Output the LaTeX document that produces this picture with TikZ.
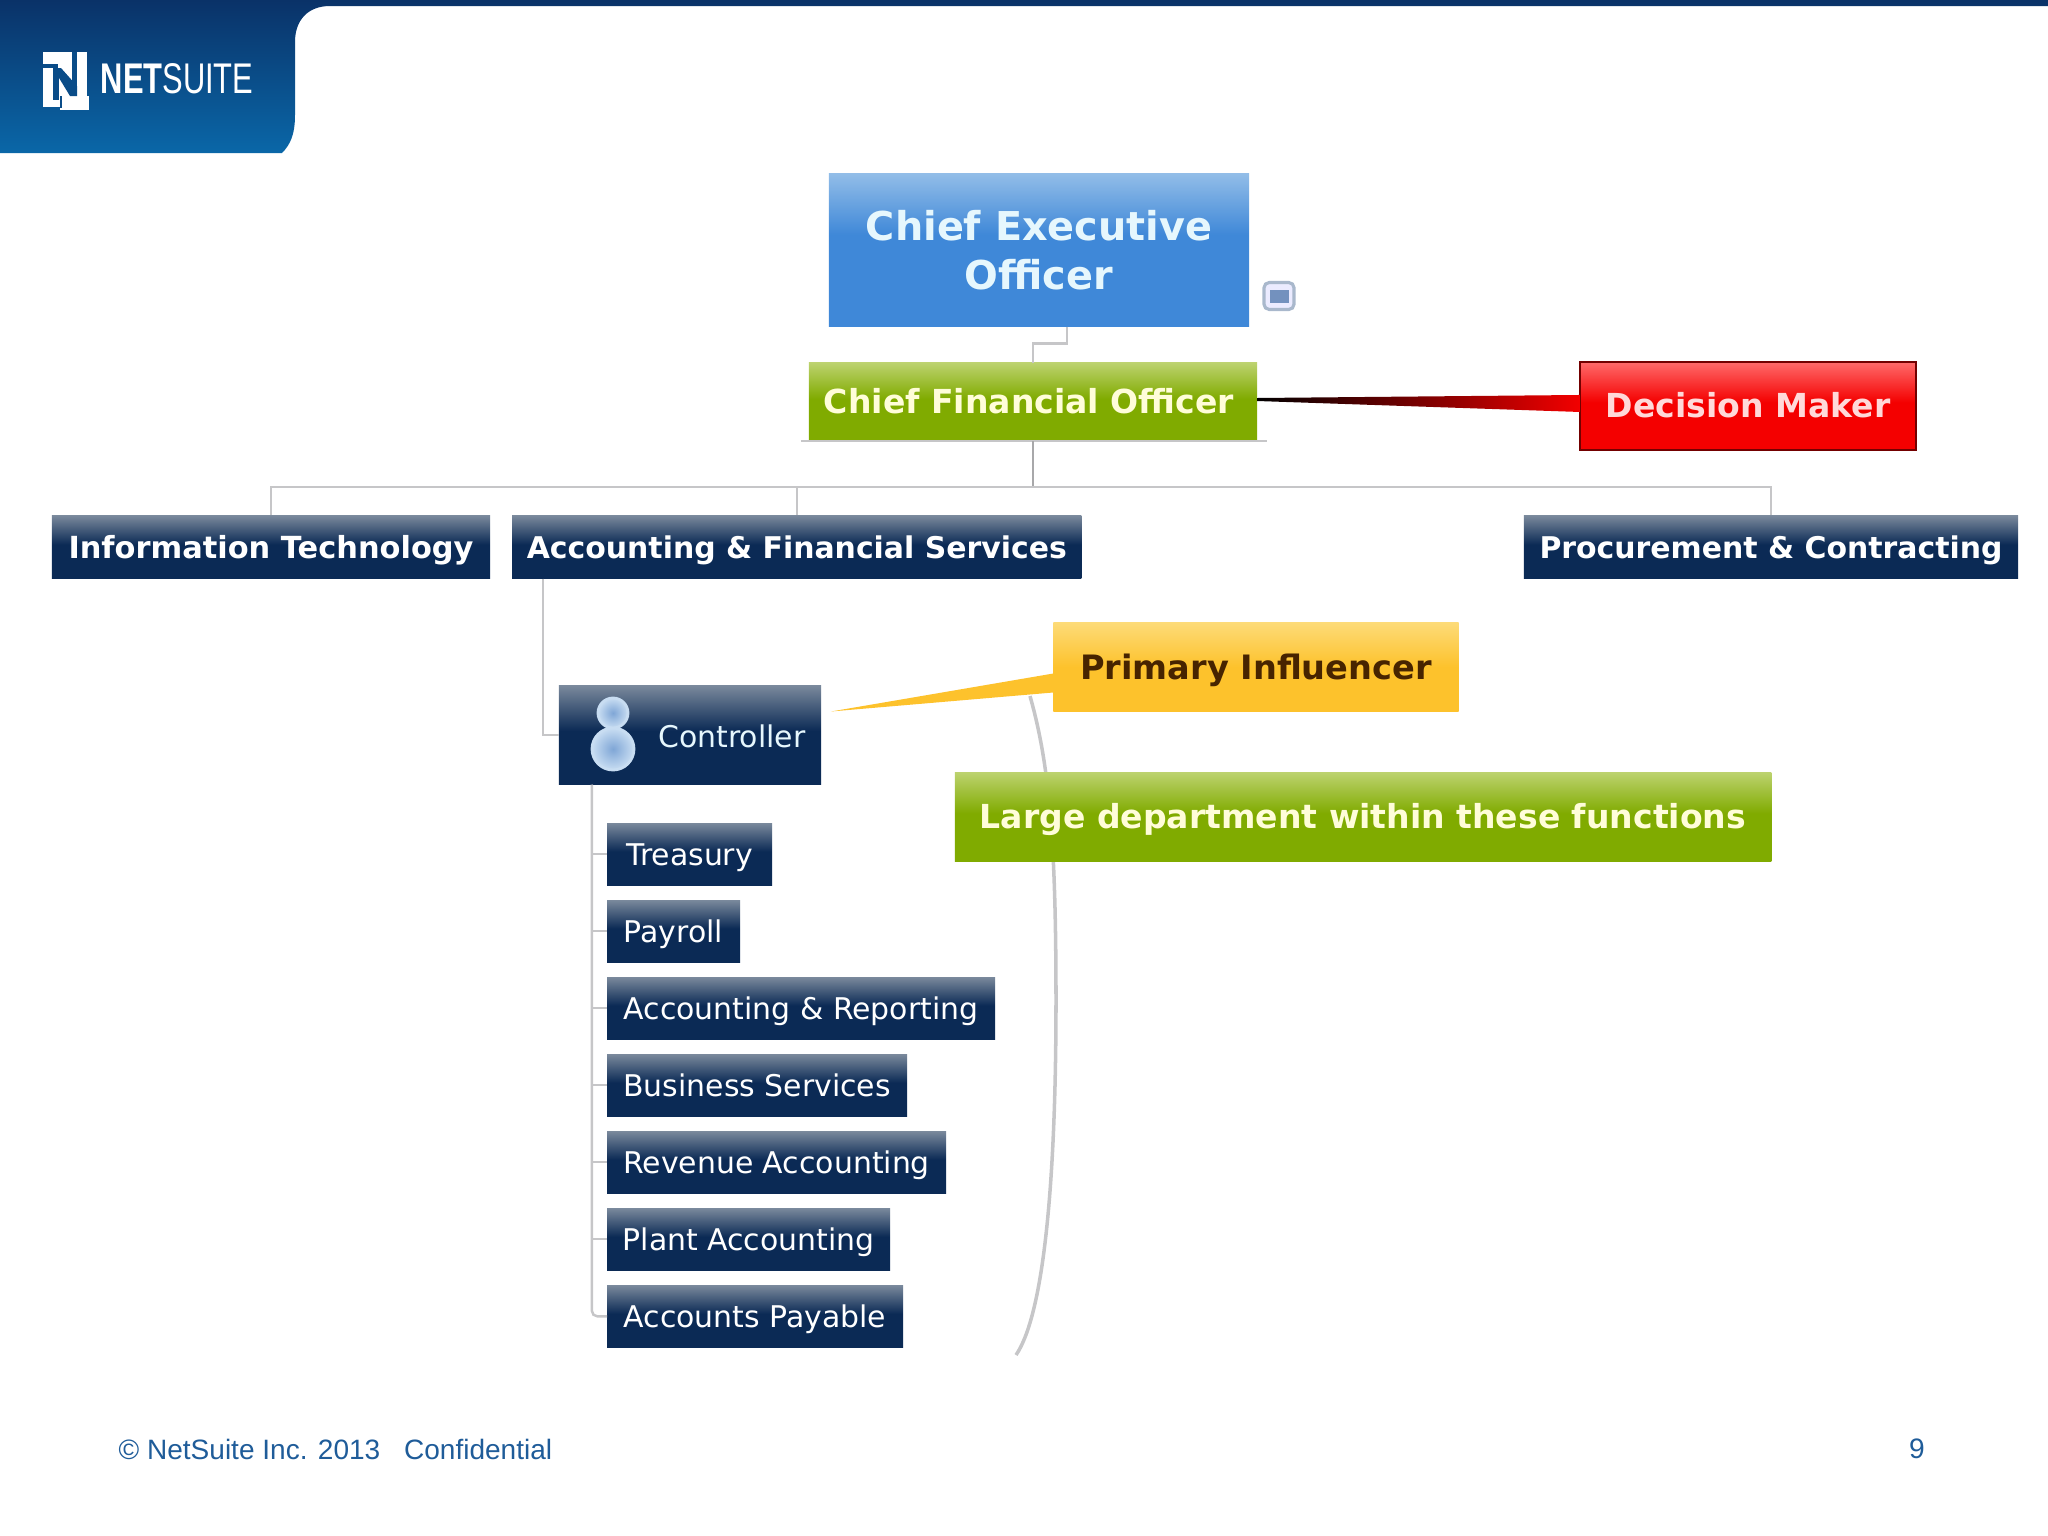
\documentclass[tikz,border=0pt]{standalone}
\usepackage{fontspec}
\setmainfont{DejaVu Sans}
\newfontfamily\footfont{Liberation Sans}
\usetikzlibrary{positioning, calc}

\definecolor{headtop}{HTML}{0A3268}
\definecolor{headlow}{HTML}{0A67A8}
\definecolor{navylow}{HTML}{0B2A55}
\definecolor{navytop}{HTML}{7A899C}
\definecolor{bluelow}{HTML}{3F88D8}
\definecolor{bluetop}{HTML}{92BDE8}
\definecolor{greenlow}{HTML}{80AB00}
\definecolor{greentop}{HTML}{BCD26E}
\definecolor{redlow}{HTML}{F40000}
\definecolor{redtop}{HTML}{FF6A6A}
\definecolor{amberlow}{HTML}{FDC22C}
\definecolor{ambertop}{HTML}{FDDB78}
\definecolor{linkgray}{HTML}{C6C6C8}
\definecolor{footblue}{HTML}{1F5C99}
\definecolor{iconcore}{HTML}{7FA6D6}
\definecolor{iconrim}{HTML}{C8DDF2}
\definecolor{memoblue}{HTML}{7391BE}
\definecolor{memoedge}{HTML}{A9B8CC}

\pgfdeclareverticalshading{navyshade}{100bp}{color(0bp)=(navylow); color(52bp)=(navylow); color(75bp)=(navytop); color(100bp)=(navytop)}
\pgfdeclareverticalshading{blueshade}{100bp}{color(0bp)=(bluelow); color(55bp)=(bluelow); color(75bp)=(bluetop); color(100bp)=(bluetop)}
\pgfdeclareverticalshading{greenshade}{100bp}{color(0bp)=(greenlow); color(52bp)=(greenlow); color(75bp)=(greentop); color(100bp)=(greentop)}
\pgfdeclareverticalshading{redshade}{100bp}{color(0bp)=(redlow); color(52bp)=(redlow); color(75bp)=(redtop); color(100bp)=(redtop)}
\pgfdeclareverticalshading{ambershade}{100bp}{color(0bp)=(amberlow); color(50bp)=(amberlow); color(75bp)=(ambertop); color(100bp)=(ambertop)}

\tikzset{
  plainbox/.style={rectangle, inner sep=0pt, outer sep=0pt, align=center},
  deptbox/.style={plainbox, shading=navyshade, text=white, minimum height=0.63cm, text height=8.4pt, text depth=2.1pt, font=\fontsize{8.5}{10}\selectfont\bfseries},
  rolebox/.style={plainbox, shading=navyshade, text=white, minimum height=0.62cm, text height=8.4pt, text depth=2.1pt, font=\fontsize{8.5}{10}\selectfont},
  bigbold/.style={text height=9.1pt, text depth=2.3pt, font=\fontsize{9.4}{11}\selectfont\bfseries},
  link/.style={draw=linkgray, line width=0.7pt},
  figure/.style={inner color=iconcore, outer color=iconrim, draw=iconrim, line width=0.8pt},
}

\begin{document}
\begin{tikzpicture}[x=0.01cm, y=-0.01cm]
\useasboundingbox (0,0) rectangle (2048,1536);

% Header band
\shade[top color=headtop, bottom color=headlow] (0,0) -- (2048,0) -- (2048,6) -- (330,6)
  .. controls (308,6) and (295,20) .. (295,42) -- (295,115)
  .. controls (295,135) and (290,145) .. (282,153) -- (0,153) -- cycle;

% Logo
\fill[white] (43,52) rectangle (87,107);
\fill[white] (60,96) rectangle (89,110);
\fill[headtop!50!headlow] (53,68) rectangle (59,100);
\fill[headtop!50!headlow] (72,52) rectangle (77,94);
\fill[headtop!50!headlow] (53,68) -- (61,68) -- (77,86) -- (77,96) -- (70,96) -- cycle;
\fill[headtop!50!headlow] (43,64) rectangle (58,68);
\fill[headtop!50!headlow] (60,96) rectangle (62,108);
\node (brand) [anchor=west, inner sep=0pt, text=white] at (100,79)
  {\scalebox{0.72}[1]{\fontsize{12.2}{14}\selectfont\footfont\textbf{NET}SUITE}};

% Side curve
\coordinate (curvetop) at (1030,696);
\coordinate (curvelow) at (1016,1355);
\draw[linkgray, line width=1pt] (curvetop) .. controls (1048,760) and (1056,830) .. (1056,1000)
  .. controls (1056,1210) and (1040,1320) .. (curvelow);

% Top of the chart
\node (ceo) [plainbox, shading=blueshade, text=white!90!cyan, minimum width=4.2cm, minimum height=1.53cm,
  font=\fontsize{11.3}{13.8}\selectfont\bfseries] at (1039,250) {Chief Executive\\Officer};
\node (cfo) [plainbox, bigbold, shading=greenshade, text=white!85!yellow, minimum width=4.48cm, minimum height=0.78cm] at (1033,402) {Chief Financial Officer\hspace{0.08cm}};
\node (memo) [draw=memoedge, line width=0.9pt, fill=blue!8, rounded corners=1.5pt, minimum width=0.3cm, minimum height=0.27cm, inner sep=0pt] at (1279,296) {};
\node (memoinner) [fill=memoblue, minimum width=0.19cm, minimum height=0.13cm, inner sep=0pt] at (memo) {};
\node (decision) [plainbox, bigbold, shading=redshade, draw=red!45!black, line width=0.5pt, text=white!85!red, minimum width=3.36cm, minimum height=0.88cm] at (1748,406) {Decision Maker};

% Departments
\node (infotech) [deptbox, minimum width=4.38cm, font=\fontsize{8.65}{10}\selectfont\bfseries] at (271,547) {Information Technology};
\node (finance) [deptbox, minimum width=5.69cm, right=0.22cm of infotech] {Accounting \& Financial Services};
\node (procure) [deptbox, minimum width=4.94cm] at (1771,547) {Procurement \& Contracting};

% Controller and its team
\node (controller) [plainbox, shading=navyshade, text=white, minimum width=2.62cm, minimum height=0.99cm] at (690,735) {};
\node (controllertxt) [text=white!90!cyan, inner sep=0pt, font=\fontsize{8.5}{10}\selectfont] at (732,736) {Controller};
\shade[figure] (613,749) ellipse (21 and 21);
\shade[figure] (613,713) circle (15);

\node (treasury) [rolebox, minimum width=1.65cm, anchor=north west] at (607,823) {Treasury};
\node (payroll) [rolebox, minimum width=1.33cm, below=0.15cm of treasury.south west, anchor=north west] {Payroll};
\node (reporting) [rolebox, minimum width=3.88cm, below=0.15cm of payroll.south west, anchor=north west] {Accounting \& Reporting};
\node (business) [rolebox, minimum width=3.0cm, below=0.15cm of reporting.south west, anchor=north west] {Business Services};
\node (revenue) [rolebox, minimum width=3.39cm, below=0.15cm of business.south west, anchor=north west] {Revenue Accounting};
\node (plant) [rolebox, minimum width=2.83cm, below=0.15cm of revenue.south west, anchor=north west] {Plant Accounting};
\node (payable) [rolebox, minimum width=2.96cm, below=0.15cm of plant.south west, anchor=north west] {Accounts Payable};

% Callouts
\node (influencer) [plainbox, shading=ambershade, text=black!65!orange!80!black, minimum width=4.05cm, minimum height=0.89cm,
  text height=9.3pt, text depth=2.4pt, font=\fontsize{9.55}{11}\selectfont\bfseries] at (1256,667) {Primary Influencer};
\node (large) [plainbox, bigbold, shading=greenshade, text=white!85!yellow, minimum width=8.16cm, minimum height=0.89cm] at (1363,817) {Large department within these functions};

% Wedges
\shade[left color=black, middle color=red!88!black, right color=red!95!black] ($(cfo.east)+(0,-4)$) -- ($(decision.north west)+(0,33)$) -- ($(decision.north west)+(0,50)$) -- ($(cfo.east)+(0,-1)$) -- cycle;
\fill[amberlow] ($(controller.north east)+(10,26)$) -- ($(influencer.north west)+(0,51)$) -- ($(influencer.north west)+(0,70)$) -- cycle;

% Branches
\coordinate (busmid) at ($(cfo.south)+(0,46)$);
\coordinate (ceostub) at ($(ceo.south)+(28,0)$);
\coordinate (controllerstem) at ($(controller.south west)+(33,0)$);
\draw[link] (ceostub) -- ++(0,17) -| (cfo.north);
\draw[link] ($(cfo.south west)+(-8,0)$) -- ($(cfo.south east)+(10,0)$);
\draw[link, draw=linkgray!85!black] (cfo.south) -- (busmid);
\draw[link] (busmid) -| (infotech.north);
\draw[link] (busmid) -| (finance.north);
\draw[link] (busmid) -| (procure.north);
\draw[link] ($(finance.south west)+(31,0)$) |- (controller.west);
\foreach \kid in {treasury, payroll, reporting, business, revenue, plant}
  \draw[link] (controllerstem) |- (\kid.west);
\draw[link, rounded corners=1.5pt] (controllerstem) |- (payable.west);

% Footer
\node (copyright) [anchor=west, inner sep=0pt, text=footblue, font=\fontsize{7.97}{10}\selectfont\footfont] at (118,1449) {© NetSuite Inc. 2013\hspace{0.85em}Confidential};
\node (pagenum) [anchor=center, inner sep=0pt, text=footblue, font=\fontsize{8}{10}\selectfont\footfont] at (1917,1449) {9};

\end{tikzpicture}
\end{document}
